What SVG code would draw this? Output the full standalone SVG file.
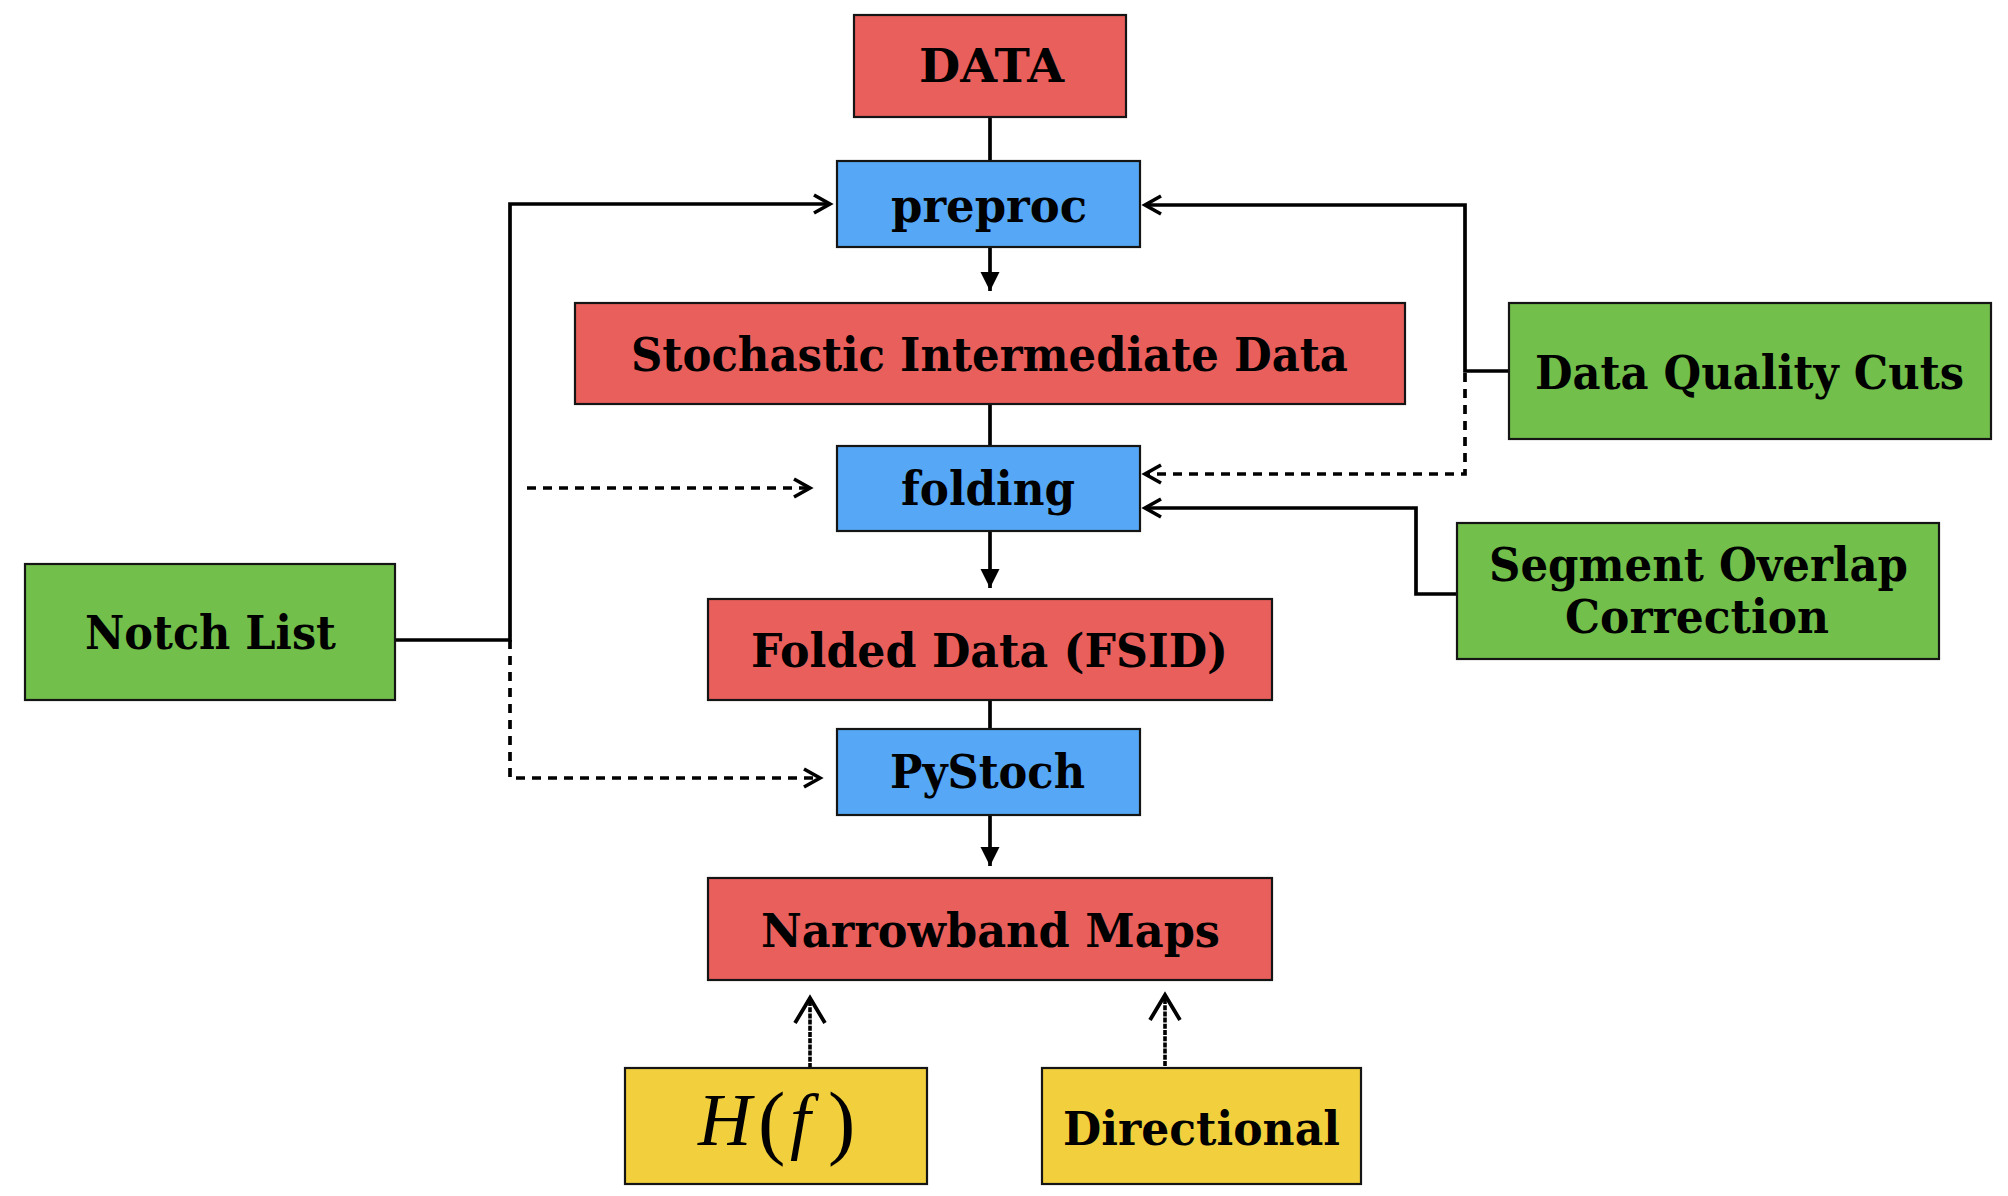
<svg xmlns="http://www.w3.org/2000/svg" width="2008" height="1196" viewBox="0 0 2008 1196">
<style>
.box{stroke:#151515;stroke-width:2.2}
.red{fill:#E95F5C}
.blue{fill:#56A8F6}
.green{fill:#72BF4B}
.yellow{fill:#F2D03D}
.lbl{font-family:"DejaVu Serif","Liberation Serif",serif;font-weight:bold;font-size:46px;fill:#000;text-anchor:middle}
.math{font-family:"Liberation Serif","DejaVu Serif",serif;font-size:74px;fill:#000}
.ln{fill:none;stroke:#000;stroke-width:3.7}
.dash{stroke-dasharray:9 7}
.sketch{stroke-width:3.6;stroke-dasharray:5 1.2}
</style>
<defs>
<marker id="chev" markerUnits="userSpaceOnUse" viewBox="-22 -14 26 28" markerWidth="26" markerHeight="28" refX="0" refY="0" orient="auto">
<path d="M-16,-9 L0,0 L-16,9" fill="none" stroke="#000" stroke-width="3.6" stroke-dasharray="none"/>
</marker>
<marker id="chevB" markerUnits="userSpaceOnUse" viewBox="-30 -20 34 40" markerWidth="34" markerHeight="40" refX="0" refY="0" orient="auto">
<path d="M-25,-15 L0,0 L-25,15" fill="none" stroke="#000" stroke-width="3.8" stroke-dasharray="none"/>
</marker>
<marker id="tri" markerUnits="userSpaceOnUse" viewBox="-22 -12 24 24" markerWidth="24" markerHeight="24" refX="0" refY="0" orient="auto">
<path d="M-19,-9.5 L0,0 L-19,9.5 Z" fill="#000"/>
</marker>
</defs>

<g id="connectors">
<path class="ln" d="M990,117 V161"/>
<path class="ln" d="M990,247 V291" marker-end="url(#tri)"/>
<path class="ln" d="M990,404 V446"/>
<path class="ln" d="M990,531 V588" marker-end="url(#tri)"/>
<path class="ln" d="M990,700 V729"/>
<path class="ln" d="M990,815 V866" marker-end="url(#tri)"/>
<path class="ln" d="M395,640 H510 V204 H830" marker-end="url(#chev)"/>
<path class="ln dash" d="M527,488 H810" marker-end="url(#chev)"/>
<path class="ln dash" d="M510,640 V778 H820" marker-end="url(#chev)"/>
<path class="ln" d="M1509,371 H1465 V205 H1145" marker-end="url(#chev)"/>
<path class="ln dash" d="M1465,373 V474 H1145" marker-end="url(#chev)"/>
<path class="ln" d="M1457,594 H1416 V508 H1145" marker-end="url(#chev)"/>
<path class="ln sketch" d="M810,1068 V998" marker-end="url(#chevB)"/>
<path class="ln sketch" d="M1165,1066 V995" marker-end="url(#chevB)"/>
</g>

<g id="data"><rect class="box red" x="854" y="15" width="272" height="102"/><text class="lbl" x="991.5" y="82" textLength="145" lengthAdjust="spacingAndGlyphs">DATA</text></g>
<g id="preproc"><rect class="box blue" x="837" y="161" width="303" height="86"/><text class="lbl" x="989" y="222" textLength="196" lengthAdjust="spacingAndGlyphs">preproc</text></g>
<g id="sid"><rect class="box red" x="575" y="303" width="830" height="101"/><text class="lbl" x="989.5" y="371" textLength="717" lengthAdjust="spacingAndGlyphs">Stochastic Intermediate Data</text></g>
<g id="folding"><rect class="box blue" x="837" y="446" width="303" height="85"/><text class="lbl" x="988" y="505" textLength="174" lengthAdjust="spacingAndGlyphs">folding</text></g>
<g id="fsid"><rect class="box red" x="708" y="599" width="564" height="101"/><text class="lbl" x="989.5" y="667" textLength="477" lengthAdjust="spacingAndGlyphs">Folded Data (FSID)</text></g>
<g id="pystoch"><rect class="box blue" x="837" y="729" width="303" height="86"/><text class="lbl" x="987.5" y="788" textLength="195" lengthAdjust="spacingAndGlyphs">PyStoch</text></g>
<g id="maps"><rect class="box red" x="708" y="878" width="564" height="102"/><text class="lbl" x="990.5" y="947" textLength="459" lengthAdjust="spacingAndGlyphs">Narrowband Maps</text></g>
<g id="hf"><rect class="box yellow" x="625" y="1068" width="302" height="116"/><text class="math" y="1145"><tspan x="698" font-style="italic">H</tspan><tspan x="758" font-size="82" dy="4">(</tspan><tspan x="790" font-style="italic" dy="-4">f</tspan><tspan x="828" font-size="82" dy="4">)</tspan></text></g>
<g id="directional"><rect class="box yellow" x="1042" y="1068" width="319" height="116"/><text class="lbl" x="1201.5" y="1145" textLength="277" lengthAdjust="spacingAndGlyphs">Directional</text></g>
<g id="notch"><rect class="box green" x="25" y="564" width="370" height="136"/><text class="lbl" x="210.5" y="649" textLength="251" lengthAdjust="spacingAndGlyphs">Notch List</text></g>
<g id="dqc"><rect class="box green" x="1509" y="303" width="482" height="136"/><text class="lbl" x="1749.5" y="389" textLength="429" lengthAdjust="spacingAndGlyphs">Data Quality Cuts</text></g>
<g id="soc"><rect class="box green" x="1457" y="523" width="482" height="136"/><text class="lbl" x="1698.5" y="581" textLength="419" lengthAdjust="spacingAndGlyphs">Segment Overlap</text><text class="lbl" x="1697" y="633" textLength="264" lengthAdjust="spacingAndGlyphs">Correction</text></g>
</svg>
